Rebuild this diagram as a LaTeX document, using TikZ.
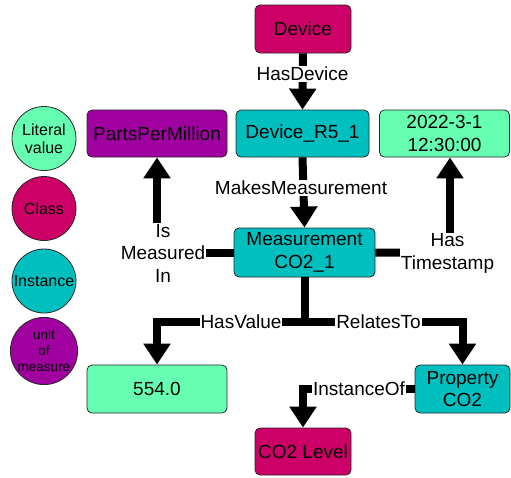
\documentclass[tikz,border=0pt]{standalone}
\usepackage{fontspec}
\setmainfont{Liberation Sans}
\usetikzlibrary{arrows.meta,calc}
\definecolor{classc}{RGB}{204,0,102}
\definecolor{instc}{RGB}{0,191,191}
\definecolor{litc}{RGB}{102,255,178}
\definecolor{unitc}{RGB}{160,0,160}
\definecolor{edgec}{RGB}{40,40,40}
\begin{document}
\begin{tikzpicture}[x=1pt,y=-1pt,
 box/.style={draw=edgec, line width=0.8pt, rounded corners=5pt, inner sep=0pt, align=center, font=\fontsize{19}{22.5}\selectfont},
 conn/.style={line width=8pt, -{Triangle[width=26pt,length=21pt]}},
 plain/.style={line width=8pt},
 lab/.style={fill=white, inner sep=1pt, align=center, font=\fontsize{19}{22.5}\selectfont},
 leg/.style={circle, draw=edgec, line width=0.8pt, minimum size=64pt, inner sep=0pt, align=center, font=\fontsize{16}{18}\selectfont}]
\useasboundingbox (0,0) rectangle (511,477);
% legend
\node[leg, fill=litc] (lg1) at (44,138.5) {Literal\\value};
\node[leg, fill=classc] (lg2) at (44,208.5) {Class};
\node[leg, fill=instc] (lg3) at (44,281) {Instance};
\node[leg, fill=unitc, font=\fontsize{13.5}{16}\selectfont] (lg4) at (44,351) {unit\\of\\measure};
% boxes
\node[box, fill=classc, minimum width=96pt, minimum height=48pt] (device) at (303,29) {Device};
\node[box, fill=unitc, minimum width=140pt, minimum height=47pt] (ppm) at (157,133.5) {PartsPerMillion};
\node[box, fill=instc, minimum width=133pt, minimum height=47pt] (dr) at (302.5,133.5) {Device\_R5\_1};
\node[box, fill=litc, minimum width=130pt, minimum height=47pt] (ts) at (444.5,133.5) {2022-3-1\\12:30:00};
\node[box, fill=instc, minimum width=141pt, minimum height=49pt] (meas) at (304.5,252.5) {Measurement\\CO2\_1};
\node[box, fill=litc, minimum width=140pt, minimum height=48pt] (val) at (157,389) {554.0};
\node[box, fill=instc, minimum width=95pt, minimum height=48pt] (prop) at (462.5,389) {Property\\CO2};
\node[box, fill=classc, minimum width=96pt, minimum height=47pt] (lvl) at (303,451.5) {CO2 Level};
% connectors
\coordinate (tj) at (304.5,322);
\coordinate (tsx) at (450,253);
\draw[conn] (device.south) -- (dr.north);
\draw[conn] (dr.south) -- (meas.north);
\draw[conn] (meas.west) -| (ppm.south);
\draw[plain] (meas.east) -- (tsx);
\draw[conn] ($(tsx)+(0,4)$) -- (tsx |- ts.south);
\draw[conn] (meas.south) -- (tj) -| (val.north);
\draw[conn] (meas.south) -- (tj) -| (prop.north);
\draw[conn] (prop.west) -| (lvl.north);
% labels
\node[lab] (l1) at (302.5,74) {HasDevice};
\node[lab] (l2) at (301,188) {MakesMeasurement};
\node[lab] (l3) at (163,253) {Is\\Measured\\In};
\node[lab] (l4) at (447.5,253.5) {Has\\Timestamp};
\node[lab] (l5) at (241,322) {HasValue};
\node[lab] (l6) at (378.5,322) {RelatesTo};
\node[lab] (l7) at (359,389) {InstanceOf};
\end{tikzpicture}
\end{document}
